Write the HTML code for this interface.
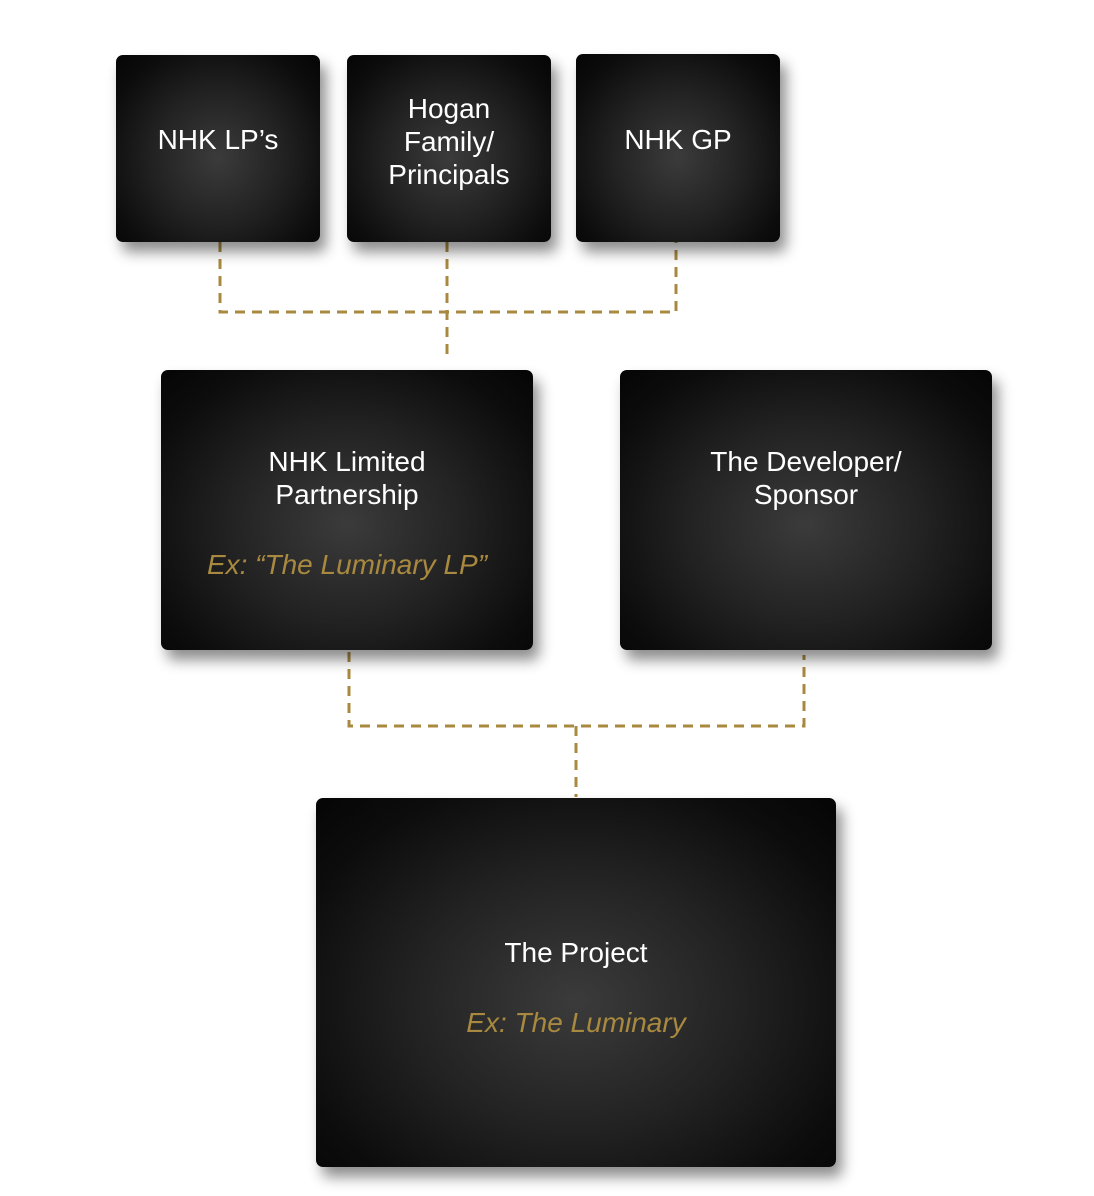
<!DOCTYPE html>
<html><head><style>
html,body{margin:0;padding:0;background:#fff;width:1094px;height:1196px;overflow:hidden;font-family:"Liberation Sans",sans-serif;}
.b{position:absolute;border-radius:7px;background:radial-gradient(ellipse at 50% 55%,#3b3b3b 0%,#222 45%,#0c0c0c 80%,#050505 100%);box-shadow:6px 10px 14px rgba(0,0,0,0.45);color:#fff;text-align:center;display:flex;flex-direction:column;justify-content:center;align-items:center;font-size:28px;line-height:33px;box-sizing:border-box;}
.g{color:#a8893f;font-style:italic;}
svg{position:absolute;left:0;top:0;}
</style></head><body>
<svg width="1094" height="1196"><g stroke="#a8893f" stroke-width="3" stroke-dasharray="10 7" fill="none">
<path d="M220 242V312H676V242"/><path d="M447 242V360"/>
<path d="M349 652V726H804V655"/><path d="M576 726V797"/>
</g></svg>
<div class="b" style="left:116px;top:55px;width:204px;height:187px;padding-bottom:18px;">NHK LP’s</div>
<div class="b" style="left:347px;top:55px;width:204px;height:187px;padding-bottom:14px;">Hogan<br>Family/<br>Principals</div>
<div class="b" style="left:576px;top:54px;width:204px;height:188px;padding-bottom:18px;">NHK GP</div>
<div class="b" style="left:161px;top:370px;width:372px;height:280px;justify-content:flex-start;"><div style="margin-top:75px">NHK Limited<br>Partnership</div><div class="g" style="margin-top:37px">Ex: “The Luminary LP”</div></div>
<div class="b" style="left:620px;top:370px;width:372px;height:280px;justify-content:flex-start;"><div style="margin-top:75px">The Developer/<br>Sponsor</div></div>
<div class="b" style="left:316px;top:798px;width:520px;height:369px;justify-content:flex-start;"><div style="margin-top:138px">The Project</div><div class="g" style="margin-top:37px">Ex: The Luminary</div></div>
</body></html>
